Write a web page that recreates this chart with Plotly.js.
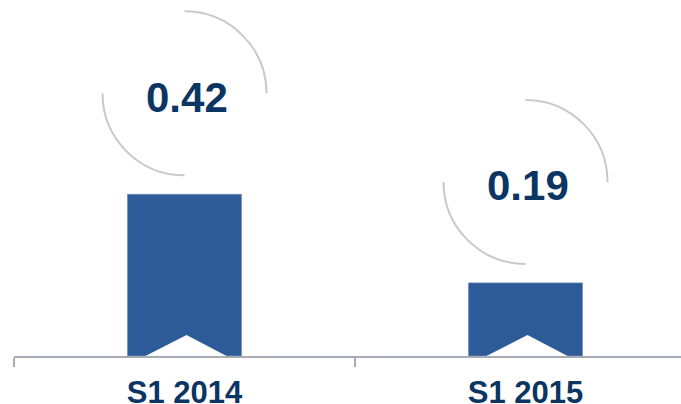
<!DOCTYPE html>
<html>
<head>
<meta charset="utf-8">
<script src="https://cdn.plot.ly/plotly-3.0.1.min.js"></script>
<style>html,body{margin:0;padding:0;background:#fff;}#chart{width:681px;height:404px;}</style>
</head>
<body>
<div id="chart"></div>
<script>
// ---- data ----
const categories = ["S1 2014", "S1 2015"];
const values = [0.42, 0.19];
const valueLabels = ["0.42", "0.19"];

// ---- styles ----
const barColor = "#2D5B98";
const navy = "#0B3563";
const arcColor = "#C9C9C9";
const axisColor = "#A7ABB3";
const font = "Liberation Sans, Arial, sans-serif";

const R = 82, CY = 101, K = 0.5523 * R;

const shapes = [];
const annotations = [];
categories.forEach((c, i) => {
  // white chevron notch at bar base
  shapes.push({
    type: "path", layer: "above",
    xref: "x", yref: "y", xsizemode: "pixel", ysizemode: "pixel",
    xanchor: i, yanchor: 0,
    path: "M -41,-1 L 2,21 L 44,-1 Z",
    fillcolor: "#ffffff", line: {width: 0}
  });
  // arcs around value label
  const arcPath =
    `M 0,${CY + R} C ${K},${CY + R} ${R},${CY + K} ${R},${CY} ` +
    `M ${-R},${CY} C ${-R},${CY - K} ${-K},${CY - R} 0,${CY - R}`;
  shapes.push({
    type: "path", layer: "above",
    xref: "x", yref: "y", xsizemode: "pixel", ysizemode: "pixel",
    xanchor: i, yanchor: values[i],
    path: arcPath,
    line: {color: arcColor, width: 2}
  });
  annotations.push({
    x: i, y: values[i], xref: "x", yref: "y",
    text: valueLabels[i], showarrow: false,
    xanchor: "center", yanchor: "middle",
    xshift: 2, yshift: 97,
    font: {family: font, size: 42, color: navy, weight: "bold"}
  });
});

const trace = {
  type: "bar",
  x: categories,
  y: values,
  width: 0.334,
  marker: {color: barColor, line: {color: "#6F8DBA", width: 0.8}},
  hoverinfo: "none"
};

const layout = {
  width: 681, height: 404,
  margin: {l: 14, r: 0, t: 0, b: 48},
  paper_bgcolor: "#ffffff", plot_bgcolor: "#ffffff",
  showlegend: false,
  xaxis: {
    type: "category",
    range: [-0.5, 1.456],
    showline: true, linecolor: axisColor, linewidth: 1.5,
    ticks: "outside", ticklen: 9, tickcolor: axisColor, tickwidth: 1.5,
    tickson: "boundaries",
    showgrid: false, zeroline: false,
    ticklabelstandoff: 8,
    tickfont: {family: font, size: 31, color: navy, weight: "bold"}
  },
  yaxis: {
    range: [0, 0.925],
    visible: false, showgrid: false, zeroline: false
  },
  shapes: shapes,
  annotations: annotations
};

Plotly.newPlot("chart", [trace], layout, {displayModeBar: false, staticPlot: true});
</script>
</body>
</html>
